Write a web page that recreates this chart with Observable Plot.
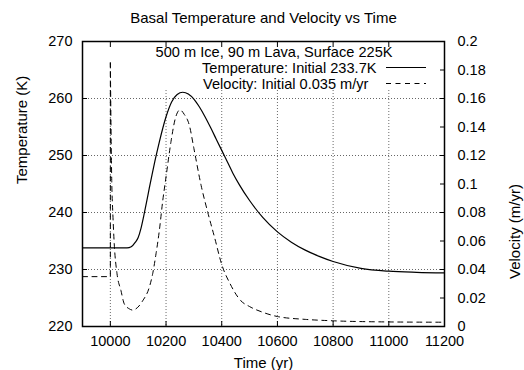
<!DOCTYPE html>
<html><head><meta charset="utf-8">
<script src="https://cdn.jsdelivr.net/npm/d3@7"></script>
<script src="https://cdn.jsdelivr.net/npm/@observablehq/plot@0.6"></script>
<style>
html,body{margin:0;padding:0;background:#fff;}
</style>
</head><body><div id="chart"></div>
<script>
const titleText = "Basal Temperature and Velocity vs Time";
const keyTitle = "500 m Ice, 90 m Lava, Surface 225K";
const tempLabel = "Temperature: Initial 233.7K";
const velLabel = "Velocity: Initial 0.035 m/yr";
const xLabel = "Time (yr)";
const yLabel = "Temperature (K)";
const y2Label = "Velocity (m/yr)";

const xTicks = [10000, 10200, 10400, 10600, 10800, 11000, 11200];
const tempTicks = [220, 230, 240, 250, 260, 270];
const velTicks = [0, 0.02, 0.04, 0.06, 0.08, 0.1, 0.12, 0.14, 0.16, 0.18, 0.2];
const velTickLabels = ["0", "0.02", "0.04", "0.06", "0.08", "0.1", "0.12", "0.14", "0.16", "0.18", "0.2"];

// Basal temperature (K)
const tempTime  = [9900, 10000, 10060, 10075, 10090, 10100, 10110, 10120, 10130, 10140, 10150, 10160, 10176, 10200, 10220, 10240, 10260, 10280, 10300, 10320, 10340, 10360, 10380, 10400, 10420, 10440, 10463, 10500, 10548, 10600, 10650, 10700, 10750, 10800, 10900, 11000, 11100, 11200];
const tempValue = [233.8, 233.8, 233.8, 234.0, 234.8, 235.6, 237.2, 239.4, 241.8, 244.3, 246.7, 249.0, 252.4, 256.8, 259.4, 260.7, 261.1, 260.8, 259.9, 258.5, 256.8, 254.9, 252.9, 250.9, 248.9, 246.9, 244.9, 242.1, 239.1, 236.6, 234.8, 233.4, 232.3, 231.4, 230.2, 229.7, 229.5, 229.4];

// Velocity (m/yr): constant before the jump, then the transient
const velPreTime  = [9900, 10000, 10000];
const velPreValue = [0.035, 0.035, 0.185];
const velTime  = [10000, 10005, 10009, 10014, 10024, 10038, 10050, 10068, 10080, 10092, 10116, 10140, 10152, 10164, 10176, 10188, 10200, 10218, 10232, 10250, 10265, 10284, 10300, 10326, 10350, 10375, 10400, 10430, 10469, 10500, 10547, 10600, 10700, 10800, 11000, 11200];
const velValue = [0.185, 0.1025, 0.079, 0.058, 0.037, 0.0253, 0.0159, 0.0124, 0.0115, 0.0124, 0.018, 0.0276, 0.037, 0.051, 0.0674, 0.088, 0.105, 0.130, 0.145, 0.152, 0.149, 0.141, 0.125, 0.099, 0.080, 0.062, 0.0435, 0.030, 0.018, 0.014, 0.010, 0.007, 0.005, 0.004, 0.0032, 0.003];

// map velocity onto the temperature axis (0..0.2 <-> 220..270)
const vToT = v => 220 + v * 250;

const temp = tempTime.map((t, i) => ({t, T: tempValue[i]}));
const velPre = velPreTime.map((t, i) => ({t, T: vToT(velPreValue[i])}));
const vel = velTime.map((t, i) => ({t, T: vToT(velValue[i])}));

const keyBottomT = 261.4;
const grid = {stroke: "#000", strokeOpacity: 0.6, strokeWidth: 1, strokeDasharray: "1,2"};
const blank = () => "";

const chart = Plot.plot({
  width: 524, height: 370,
  marginLeft: 82, marginRight: 80, marginTop: 41, marginBottom: 44,
  style: {fontFamily: "'Liberation Sans', Arial, Helvetica, sans-serif", fontSize: "14.5px", color: "#000", background: "#fff", overflow: "visible"},
  x: {domain: [9900, 11200]},
  y: {domain: [220, 270]},
  marks: [
    Plot.ruleY(tempTicks.slice(1, -1), grid),
    Plot.ruleX(xTicks.slice(0, -1), {...grid, y1: keyBottomT, y2: 220}),
    Plot.line(temp, {x: "t", y: "T", curve: "monotone-x", stroke: "#000", strokeWidth: 1.2}),
    Plot.line(velPre, {x: "t", y: "T", stroke: "#000", strokeWidth: 1, strokeDasharray: "5,4.5"}),
    Plot.line(vel, {x: "t", y: "T", curve: "monotone-x", stroke: "#000", strokeWidth: 1, strokeDasharray: "5,4.5"}),
    Plot.frame({stroke: "#000", strokeWidth: 1.5}),
    // inward tick marks
    Plot.axisX({anchor: "bottom", ticks: xTicks, tickSize: 5, dy: -5, tickFormat: blank, label: null}),
    Plot.axisX({anchor: "top", ticks: xTicks, tickSize: 5, dy: 5, tickFormat: blank, label: null}),
    Plot.axisY({anchor: "left", ticks: tempTicks, tickSize: 5, dx: 5, tickFormat: blank, label: null}),
    Plot.axisY({anchor: "right", ticks: velTicks.map(vToT), tickSize: 5, dx: -5, tickFormat: blank, label: null}),
    // tick labels
    Plot.axisX({anchor: "bottom", ticks: xTicks, tickSize: 0, tickPadding: 9, tickFormat: d => String(d), label: null}),
    Plot.axisY({anchor: "left", ticks: tempTicks, tickSize: 0, tickPadding: 10, tickFormat: d => String(d), label: null}),
    Plot.axisY({anchor: "right", ticks: velTicks.map(vToT), tickSize: 0, tickPadding: 13,
      tickFormat: d => velTickLabels[velTicks.findIndex(v => Math.abs(vToT(v) - d) < 1e-6)], label: null}),
    // titles
    Plot.text([titleText], {frameAnchor: "top", dy: -23, lineAnchor: "middle", fontSize: 15}),
    Plot.text([xLabel], {frameAnchor: "bottom", dy: 37, lineAnchor: "middle", fontSize: 15}),
    Plot.text([yLabel], {frameAnchor: "left", dx: -60, rotate: -90, lineAnchor: "middle", fontSize: 15}),
    Plot.text([y2Label], {frameAnchor: "right", dx: 71, rotate: -90, lineAnchor: "middle", fontSize: 15}),
    // key
    Plot.text([keyTitle], {frameAnchor: "top-right", dx: -52, dy: 11, textAnchor: "end", lineAnchor: "middle", fontSize: 14.6}),
    Plot.text([tempLabel], {frameAnchor: "top-right", dx: -68, dy: 27, textAnchor: "end", lineAnchor: "middle", fontSize: 14.6}),
    Plot.text([velLabel], {frameAnchor: "top-right", dx: -76, dy: 42.5, textAnchor: "end", lineAnchor: "middle", fontSize: 14.6})
  ]
});

// key sample lines
const svg = d3.select(chart);
const right = 524 - 80;
svg.append("line").attr("x1", right - 58).attr("x2", right - 18).attr("y1", 41 + 26.5).attr("y2", 41 + 26.5)
  .attr("stroke", "#000").attr("stroke-width", 1.2);
svg.append("line").attr("x1", right - 58).attr("x2", right - 18).attr("y1", 41 + 42.5).attr("y2", 41 + 42.5)
  .attr("stroke", "#000").attr("stroke-width", 1).attr("stroke-dasharray", "5,4.5");

document.getElementById("chart").appendChild(chart);
</script>
</body></html>
